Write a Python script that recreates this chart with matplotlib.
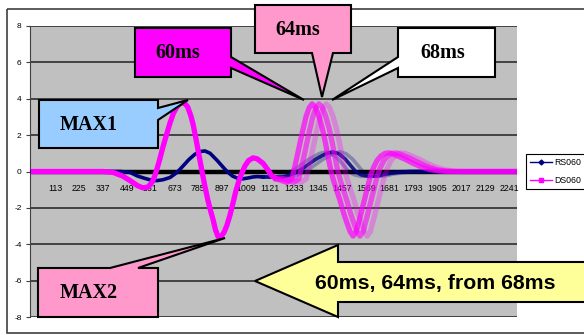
import matplotlib.pyplot as plt
from matplotlib.patches import Polygon, Rectangle
from matplotlib.lines import Line2D

# DS060: first pulse (MAX1 / MAX2), sample index vs amplitude
ds_main_x = [0, 338, 385, 430, 465, 500, 525, 550, 570, 582, 600, 619, 635, 652,
             668, 685, 700, 718, 735, 750, 760, 772, 783, 795, 807, 818, 830,
             842, 854, 865, 877, 890, 905, 919, 933, 947, 960, 975, 990, 1003,
             1020, 1041, 1060, 1088, 1110, 1130, 1150]
ds_main_y = [0, 0, -0.05, -0.25, -0.5, -0.78, -0.9, -0.85, -0.55, -0.2, 0.5,
             1.35, 2.0, 2.67, 3.2, 3.57, 3.74, 3.78, 3.55, 3.05, 2.6, 1.9, 1.2,
             0.45, -0.3, -0.95, -1.6, -2.15, -2.65, -3.2, -3.58, -3.6, -3.35,
             -2.95, -2.4, -1.75, -1.1, -0.5, -0.05, 0.3, 0.6, 0.75, 0.7, 0.45,
             0.1, -0.25, -0.4]

# DS060: reflected pulse
ds_echo_x = [1150, 1175, 1200, 1224, 1247, 1271, 1289, 1304, 1318, 1332, 1348,
             1365, 1380, 1393, 1405, 1416, 1432, 1449, 1466, 1482, 1496, 1510,
             1525, 1543, 1560, 1575, 1590, 1605, 1622, 1640, 1660, 1680, 1700,
             1725, 1753, 1791, 1830, 1871, 1917, 1960, 2290]
ds_echo_y = [-0.4, -0.5, -0.6, -0.4, 0.8, 2.1, 3.0, 3.5, 3.72, 3.55, 3.1, 2.4,
             1.6, 0.8, 0.1, -0.4, -1.0, -1.6, -2.3, -2.85, -3.3, -3.55, -3.3,
             -2.5, -1.7, -1.0, -0.3, 0.2, 0.6, 0.85, 1.0, 1.02, 0.95, 0.82,
             0.68, 0.45, 0.25, 0.1, 0.02, 0, 0]

# RS060: first pulse
rs_main_x = [0, 420, 465, 500, 535, 565, 591, 620, 652, 685, 713, 740, 769, 795,
             816, 840, 872, 900, 919, 945, 970, 995, 1020, 1041, 1060, 1088]
rs_main_y = [0, 0, -0.05, -0.25, -0.38, -0.48, -0.5, -0.45, -0.33, -0.05, 0.3,
             0.65, 0.95, 1.1, 1.13, 1.0, 0.62, 0.25, 0.0, -0.25, -0.38, -0.4,
             -0.35, -0.3, -0.28, -0.3]

# RS060: reflected pulse
rs_echo_x = [1088, 1120, 1150, 1180, 1210, 1240, 1270, 1300, 1330, 1355, 1383,
             1410, 1440, 1465, 1490, 1515, 1550, 1590, 1630, 1680, 1740, 2290]
rs_echo_y = [-0.3, -0.32, -0.3, -0.2, -0.05, 0.15, 0.4, 0.65, 0.85, 1.0, 1.08,
             0.98, 0.7, 0.35, 0.0, -0.18, -0.27, -0.25, -0.15, -0.06, 0, 0]

# reflection arriving at 60ms, 64ms, 68ms (shift in samples)
echo_shift = [0, 32, 66]
ds_echo_alpha = [0.7, 0.6, 0.3]
rs_echo_alpha = [0.3, 0.85, 0.3]

x_ticks = list(range(113, 2242, 112))
y_ticks = [-8, -6, -4, -2, 0, 2, 4, 6, 8]

W, H = 584, 335
fig = plt.figure(figsize=(W / 100, H / 100), dpi=100)

ax = fig.add_axes([30 / W, 18 / H, 487 / W, 291 / H])
ax.set_facecolor('#C0C0C0')
ax.set_xlim(-4, 2278)
ax.set_ylim(-8, 8)

for y in y_ticks:
    if y != 0:
        ax.axhline(y, color='#202020', lw=1.1, zorder=1)
ax.axhline(0, color='black', lw=3.2, zorder=1.5)

navy = '#000080'
mag = '#FF00FF'

ax.plot(rs_main_x, rs_main_y, color=navy, lw=2.6, zorder=3)
for sh, a in zip(echo_shift, rs_echo_alpha):
    xs = [rs_echo_x[0]] + [x + sh for x in rs_echo_x]
    ys = [rs_echo_y[0]] + rs_echo_y
    ax.plot(xs, ys, color=navy, lw=2.6, alpha=a, zorder=3)

ax.plot(ds_main_x, ds_main_y, color=mag, lw=3.8, zorder=4, solid_capstyle='butt')
for sh, a in zip(echo_shift, ds_echo_alpha):
    xs = [ds_echo_x[0]] + [x + sh for x in ds_echo_x]
    ys = [ds_echo_y[0]] + ds_echo_y
    ax.plot(xs, ys, color=mag, lw=3.8, alpha=a, zorder=4)

ax.spines['bottom'].set_position(('data', 0))
ax.spines['bottom'].set_visible(False)
ax.spines['top'].set_visible(False)
ax.spines['right'].set_visible(False)
ax.spines['left'].set_color('#404040')
ax.spines['left'].set_linewidth(0.8)
ax.set_xticks(x_ticks)
ax.set_xticklabels([str(t) for t in x_ticks], fontsize=6.3, family='Liberation Sans')
ax.set_yticks(y_ticks)
ax.set_yticklabels([str(t) for t in y_ticks], fontsize=6, family='Liberation Sans')
ax.tick_params(axis='x', length=0, pad=9)
ax.tick_params(axis='y', length=3, width=0.8, pad=3, color='#404040')

handles = [Line2D([], [], color=navy, lw=1, marker='D', ms=2.5),
           Line2D([], [], color=mag, lw=1, marker='s', ms=2.5)]
leg = fig.legend(handles, ['RS060', 'DS060'], loc='upper left',
                 bbox_to_anchor=(526 / W, 1 - 154 / H),
                 fancybox=False, edgecolor='black', framealpha=1,
                 borderpad=0.45, handlelength=2.5, handletextpad=0.3,
                 labelspacing=1.0, borderaxespad=0,
                 prop={'family': 'Liberation Sans', 'size': 6.3})
leg.get_frame().set_linewidth(0.8)

# callouts drawn in pixel space on top of the chart
ov = fig.add_axes([0, 0, 1, 1])
ov.set_xlim(0, W)
ov.set_ylim(H, 0)
ov.axis('off')
ov.add_patch(Rectangle((7, 8.5), 600, 324.5, fill=False, ec='#404040', lw=1.2))

callouts = [
    ([(135, 28), (231, 28), (231, 57), (304, 100), (231, 68), (231, 77), (135, 77)],
     '#FF00FF', '60ms', (178, 53)),
    ([(255, 5), (351, 5), (351, 53), (333, 53), (322, 97), (312, 53), (255, 53)],
     '#FF99CC', '64ms', (298, 30)),
    ([(398, 28), (495, 28), (495, 77), (398, 77), (398, 68), (332, 100), (398, 57)],
     'white', '68ms', (443, 53)),
    ([(39, 100), (158, 100), (158, 108), (188, 100), (158, 120), (158, 148), (39, 148)],
     '#99CCFF', 'MAX1', (89, 125)),
    ([(38, 268), (110, 268), (225, 238), (138, 268), (158, 268), (158, 317), (38, 317)],
     '#FF99CC', 'MAX2', (89, 293)),
]
for pts, fc, txt, (tx, ty) in callouts:
    ov.add_patch(Polygon(pts, closed=True, fc=fc, ec='black', lw=1.5, joinstyle='miter'))
    ov.text(tx, ty, txt, ha='center', va='center', fontsize=14.5, fontweight='bold',
            family='Liberation Serif')

arrow = [(255, 281), (338, 245), (338, 262), (600, 262), (600, 302), (338, 302), (338, 317)]
ov.add_patch(Polygon(arrow, closed=True, fc='#FFFF99', ec='black', lw=1.5, joinstyle='miter'))
ov.text(435, 283, '60ms, 64ms, from 68ms', ha='center', va='center', fontsize=15.3,
        fontweight='bold', family='Liberation Sans')

fig.savefig('out.png', dpi=100)
